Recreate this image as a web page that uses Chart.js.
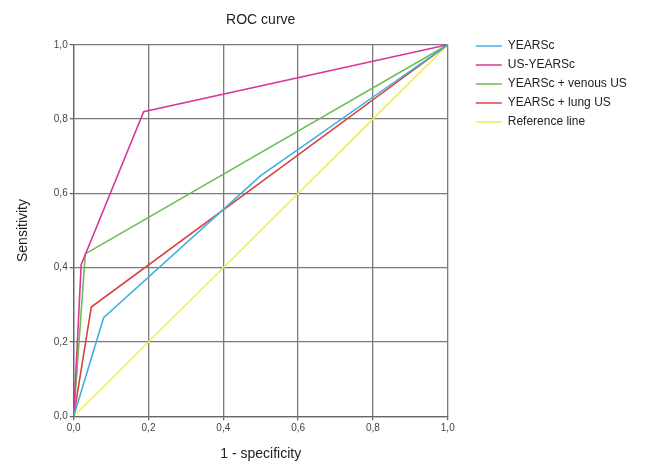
<!DOCTYPE html>
<html>
<head>
<meta charset="utf-8">
<script src="https://cdn.jsdelivr.net/npm/chart.js@4"></script>
<style>
  html, body { margin: 0; padding: 0; background: #fff; }
  #wrap { width: 648px; height: 463px; }
</style>
</head>
<body>
<div id="wrap"><canvas id="roc" width="648" height="463"></canvas></div>
<script>
// ROC points (1 - specificity, sensitivity)
const seriesNames = ['YEARSc', 'US-YEARSc', 'YEARSc + venous US', 'YEARSc + lung US', 'Reference line'];
const yearscX = [0, 0.08, 0.50, 1];
const yearscY = [0, 0.265, 0.648, 1];
const usYearscX = [0, 0.02, 0.187, 1];
const usYearscY = [0, 0.408, 0.82, 1];
const venousX = [0, 0.031, 1];
const venousY = [0, 0.437, 1];
const lungX = [0, 0.047, 1];
const lungY = [0, 0.294, 1];
const refX = [0, 1];
const refY = [0, 1];
const colors = ['#3fb1de', '#d9389f', '#6bbd52', '#d8423f', '#eeee5a'];

const toPts = (xs, ys) => xs.map((x, i) => ({ x: x, y: ys[i] }));
const allX = [yearscX, usYearscX, venousX, lungX, refX];
const allY = [yearscY, usYearscY, venousY, lungY, refY];

const fmt = (v) => v.toFixed(1).replace('.', ',');
const font = 'Liberation Sans, Arial, sans-serif';

// move the legend away from the plot and down next to the top of it
const legendShift = {
    id: 'legendShift',
    afterLayout(chart) {
        const lg = chart.legend;
        const dy = 45 - (lg.top + 12);
        lg.left += 21;
        lg.right = chart.width;
        lg.top += dy;
        lg.bottom += dy;
    },
};

new Chart(document.getElementById('roc'), {
    type: 'line',
    data: {
        datasets: seriesNames.map((name, i) => ({
            label: name,
            data: toPts(allX[i], allY[i]),
            borderColor: colors[i],
            backgroundColor: colors[i],
            borderWidth: 1.6,
            pointRadius: 0,
            tension: 0,
            fill: false,
        })),
    },
    plugins: [legendShift],
    options: {
        responsive: false,
        animation: false,
        layout: { padding: { top: 6, right: 56, left: 15, bottom: 0 } },
        plugins: {
            title: {
                display: true,
                fullSize: false,
                text: 'ROC curve',
                color: '#222',
                font: { family: font, size: 14, weight: 'normal' },
                padding: { top: 6, bottom: 16 },
            },
            legend: {
                position: 'right',
                align: 'start',
                labels: {
                    usePointStyle: true,
                    pointStyle: 'line',
                    pointStyleWidth: 26,
                    color: '#222',
                    padding: 7,
                    font: { family: font, size: 12 },
                },
            },
            tooltip: { enabled: false },
        },
        scales: {
            x: {
                type: 'linear',
                min: 0,
                max: 1,
                ticks: { stepSize: 0.2, callback: fmt, color: '#444', font: { family: font, size: 10 }, padding: 2 },
                grid: { color: '#7a7a7a', lineWidth: 1.3, tickLength: 4, tickColor: '#666' },
                border: { color: '#666', width: 1.3 },
                title: { display: true, text: '1 - specificity', color: '#222', font: { family: font, size: 14 }, padding: { top: 10, bottom: 0 } },
            },
            y: {
                type: 'linear',
                min: 0,
                max: 1,
                ticks: { stepSize: 0.2, callback: fmt, color: '#444', font: { family: font, size: 10 }, padding: 2 },
                grid: { color: '#7a7a7a', lineWidth: 1.3, tickLength: 4, tickColor: '#666' },
                border: { color: '#666', width: 1.3 },
                title: { display: true, text: 'Sensitivity', color: '#222', font: { family: font, size: 14 }, padding: { top: 0, bottom: 20 } },
            },
        },
    },
});
</script>
</body>
</html>
